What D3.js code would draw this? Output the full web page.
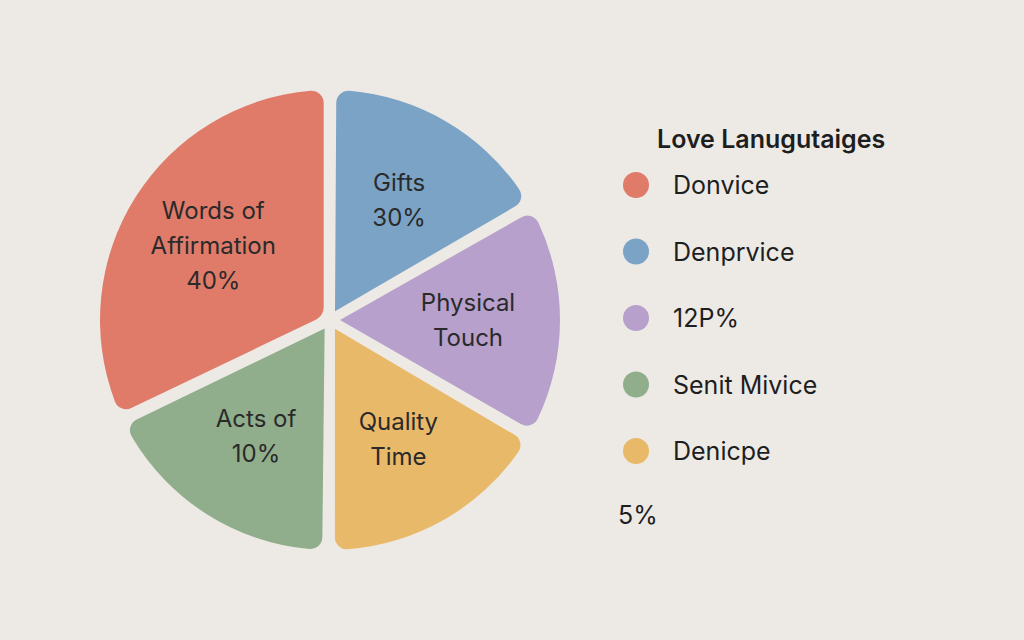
<!DOCTYPE html>
<html>
<head>
<meta charset="utf-8">
<script src="https://cdn.jsdelivr.net/npm/d3@7"></script>
<style>
  body { margin: 0; background: #edeae6; }
  svg { display: block; font-family: Inter, "Open Sans", sans-serif; }
</style>
</head>
<body>
<div id="chart"></div>
<script>
// slice names, shown labels and visual share
var categories = ["Gifts", "Physical Touch", "Quality Time", "Acts of", "Words of Affirmation"];
var labelLines = [["Gifts", "30%"], ["Physical", "Touch"], ["Quality", "Time"], ["Acts of", "10%"], ["Words of", "Affirmation", "40%"]];
var shares = [16.7, 16.7, 16.7, 17.8, 32.1];
var colors = ["#7ba3c6", "#b7a0cb", "#e9b96a", "#90ae8c", "#e07b6a"];

var legendTitle = "Love Lanugutaiges";
var legendLabels = ["Donvice", "Denprvice", "12P%", "Senit Mivice", "Denicpe"];
var legendColors = ["#e07b6a", "#7ba3c6", "#b7a0cb", "#90ae8c", "#e9b96a"];
var footNote = "5%";

function init() {
  var width = 1024, height = 640;
  var cx = 330, cy = 320, radius = 230;

  var svg = d3.select("#chart").append("svg")
    .attr("width", width)
    .attr("height", height);

  svg.append("rect").attr("width", width).attr("height", height).attr("fill", "#edeae6");

  var pie = d3.pie().sort(null).value(function(d) { return d; });

  var arc = d3.arc()
    .innerRadius(10)
    .outerRadius(radius)
    .padAngle(0.055)
    .padRadius(radius)
    .cornerRadius(12);

  var labelArc = d3.arc().innerRadius(radius * 0.6).outerRadius(radius * 0.6);

  var g = svg.append("g").attr("transform", "translate(" + cx + "," + cy + ")");

  var arcs = g.selectAll("g.arc")
    .data(pie(shares))
    .enter()
    .append("g")
    .attr("class", "arc");

  arcs.append("path")
    .attr("d", arc)
    .attr("fill", function(d, i) { return colors[i]; });

  arcs.append("text")
    .attr("transform", function(d) { return "translate(" + labelArc.centroid(d) + ")"; })
    .attr("text-anchor", "middle")
    .style("font-size", "24px")
    .style("fill", "#2a2a2a")
    .each(function(d, i) {
      var lines = labelLines[i];
      var t = d3.select(this);
      var lh = 35;
      var start = -(lines.length - 1) * lh / 2 + 8;
      lines.forEach(function(line, j) {
        t.append("tspan").attr("x", 0).attr("y", start + j * lh).text(line);
      });
    });

  // legend
  var legend = svg.append("g");
  legend.append("text")
    .attr("x", 657).attr("y", 148)
    .style("font-size", "25px")
    .style("font-weight", "600")
    .style("fill", "#1e1e1e")
    .text(legendTitle);

  var ly = d3.scalePoint().domain(d3.range(legendLabels.length)).range([185, 451]);

  var items = legend.selectAll("g.item")
    .data(legendLabels)
    .enter()
    .append("g")
    .attr("class", "item")
    .attr("transform", function(d, i) { return "translate(636," + ly(i) + ")"; });

  items.append("circle").attr("r", 13).attr("fill", function(d, i) { return legendColors[i]; });
  items.append("text")
    .attr("x", 37).attr("y", 9)
    .style("font-size", "25px")
    .style("fill", "#1e1e1e")
    .text(function(d) { return d; });

  legend.append("text")
    .attr("x", 618).attr("y", 524)
    .style("font-size", "25px")
    .style("fill", "#1e1e1e")
    .text(footNote);
}

window.onload = init;
</script>
</body>
</html>
